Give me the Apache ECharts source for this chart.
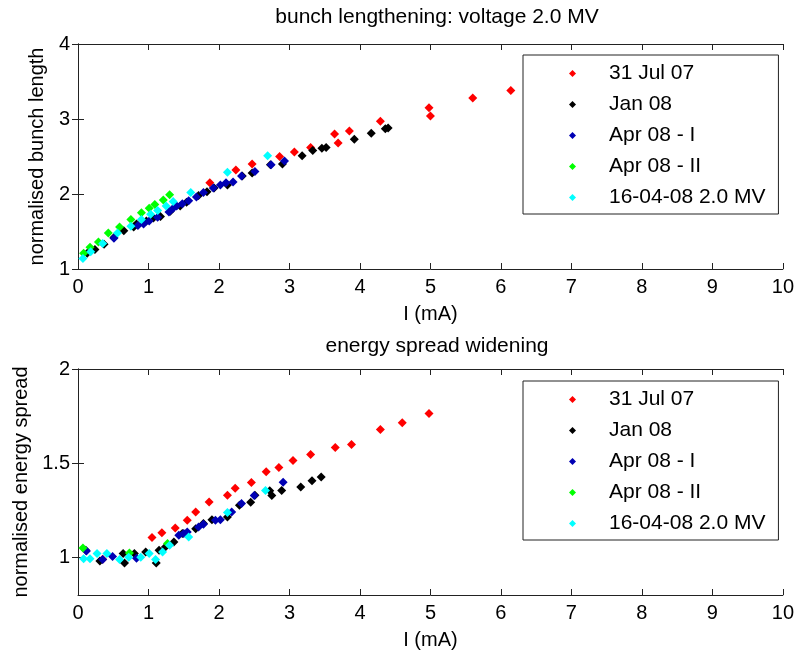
<!DOCTYPE html>
<html><head><meta charset="utf-8">
<script src="https://cdn.jsdelivr.net/npm/echarts@6/dist/echarts.min.js"></script>
<style>html,body{margin:0;padding:0;background:#fff}#c{width:797px;height:652px}</style>
</head><body><div id="c"></div>
<script>
const seriesNames = ['31 Jul 07', 'Jan 08', 'Apr 08 - I', 'Apr 08 - II', '16-04-08 2.0 MV'];
const seriesColors = ['#ff0000', '#000000', '#0000b4', '#00ff00', '#00ffff'];
const xTicks = [0,1,2,3,4,5,6,7,8,9,10];
const topYTicks = [1,2,3,4];
const botYTicks = [1,1.5,2];

// top: normalised bunch length
const bunchRed = [[1.87,2.15],[2.24,2.32],[2.47,2.40],[2.86,2.50],[3.07,2.56],[3.30,2.62],[3.64,2.80],[3.69,2.68],[3.85,2.84],[4.29,2.97],[4.98,3.15],[5.00,3.04],[5.60,3.28],[6.14,3.38]];
const bunchBlack = [[0.13,1.21],[0.24,1.26],[0.37,1.33],[0.51,1.42],[0.65,1.51],[0.79,1.56],[0.83,1.60],[0.97,1.64],[1.07,1.68],[1.17,1.70],[1.31,1.77],[1.45,1.84],[1.54,1.89],[1.71,1.98],[1.83,2.03],[1.93,2.08],[2.12,2.12],[2.33,2.24],[2.47,2.28],[2.73,2.39],[2.90,2.40],[3.18,2.51],[3.33,2.58],[3.46,2.61],[3.52,2.62],[3.92,2.73],[4.16,2.81],[4.36,2.87],[4.40,2.88]];
const bunchBlue = [[0.51,1.41],[0.85,1.58],[0.93,1.60],[1.01,1.64],[1.13,1.69],[1.29,1.76],[1.35,1.81],[1.40,1.84],[1.48,1.87],[1.57,1.91],[1.68,1.96],[1.78,2.02],[1.92,2.08],[2.02,2.12],[2.10,2.15],[2.20,2.16],[2.32,2.24],[2.51,2.30],[2.74,2.39],[2.93,2.44]];
const bunchGreen = [[0.08,1.21],[0.17,1.29],[0.29,1.36],[0.43,1.48],[0.59,1.56],[0.75,1.66],[0.90,1.75],[1.01,1.81],[1.09,1.86],[1.21,1.92],[1.30,1.99]];
const bunchCyan = [[0.07,1.14],[0.18,1.23],[0.35,1.34],[0.56,1.48],[0.75,1.57],[0.90,1.66],[1.03,1.73],[1.13,1.78],[1.25,1.84],[1.35,1.90],[1.60,2.02],[2.12,2.29],[2.69,2.51]];

// bottom: normalised energy spread
const spreadRed = [[0.35,0.99],[1.05,1.105],[1.19,1.131],[1.38,1.156],[1.55,1.197],[1.67,1.241],[1.86,1.294],[2.12,1.33],[2.23,1.367],[2.46,1.397],[2.67,1.454],[2.85,1.477],[3.05,1.514],[3.30,1.546],[3.65,1.583],[3.88,1.599],[4.29,1.679],[4.60,1.714],[4.98,1.764]];
const spreadBlack = [[0.11,1.037],[0.31,0.98],[0.64,1.02],[0.66,0.97],[0.80,1.02],[0.96,1.028],[1.11,0.97],[1.15,1.037],[1.24,1.055],[1.36,1.081],[1.48,1.126],[1.67,1.152],[1.78,1.179],[1.90,1.20],[2.12,1.214],[2.29,1.277],[2.45,1.293],[2.51,1.33],[2.72,1.353],[2.75,1.328],[2.89,1.355],[3.16,1.374],[3.32,1.406],[3.45,1.427]];
const spreadBlue = [[0.12,1.033],[0.35,0.988],[0.49,1.005],[0.83,0.995],[1.43,1.117],[1.50,1.126],[1.55,1.135],[1.71,1.161],[1.78,1.176],[1.95,1.197],[2.02,1.20],[2.18,1.241],[2.32,1.286],[2.50,1.328],[2.91,1.399]];
const spreadGreen = [[0.07,1.05],[0.73,1.023],[1.27,1.073]];
const spreadCyan = [[0.08,0.993],[0.17,0.993],[0.27,1.02],[0.41,1.02],[0.59,0.988],[0.72,1.0],[0.89,1.0],[1.01,1.02],[1.10,0.988],[1.20,1.028],[1.30,1.064],[1.57,1.108],[2.12,1.238],[2.66,1.355]];

const topData = [bunchRed, bunchBlack, bunchBlue, bunchGreen, bunchCyan];
const botData = [spreadRed, spreadBlack, spreadBlue, spreadGreen, spreadCyan];

const FONT = "'Liberation Sans', Arial, sans-serif";
const FS = 20;
const FS_BIG = 21;
const axisColor = '#222';

function xAxes(gridIndex) {
  const base = {
    type: 'value', gridIndex: gridIndex, min: 0, max: 10, interval: 1,
    axisLine: { lineStyle: { color: axisColor, width: 1 } },
    axisTick: { inside: true, length: 6, lineStyle: { color: axisColor } },
    splitLine: { show: false }
  };
  return [
    Object.assign({}, base, {
      position: 'bottom', name: 'I (mA)', nameLocation: 'middle', nameGap: 35,
      nameTextStyle: { fontFamily: FONT, fontSize: FS, color: '#000' },
      axisLabel: { fontFamily: FONT, fontSize: FS, color: '#000', margin: 8,
        customValues: xTicks }
    }),
    Object.assign({}, base, { position: 'top', axisLabel: { show: false } })
  ];
}
function yAxes(gridIndex, min, max, ticks, name, gap) {
  const base = {
    type: 'value', gridIndex: gridIndex, min: min, max: max,
    axisLine: { lineStyle: { color: axisColor, width: 1 } },
    axisTick: { inside: true, length: 6, lineStyle: { color: axisColor }, customValues: ticks },
    splitLine: { show: false }
  };
  return [
    Object.assign({}, base, {
      position: 'left', name: name, nameLocation: 'middle', nameGap: gap,
      nameTextStyle: { fontFamily: FONT, fontSize: FS, color: '#000' },
      axisLabel: { fontFamily: FONT, fontSize: FS, color: '#000', margin: 8, customValues: ticks }
    }),
    Object.assign({}, base, { position: 'right', axisLabel: { show: false } })
  ];
}

const series = [];
seriesNames.forEach((n, i) => {
  series.push({ name: n, type: 'scatter', xAxisIndex: 0, yAxisIndex: 0, data: topData[i],
    symbol: 'diamond', symbolSize: 9, itemStyle: { color: seriesColors[i], opacity: 1 } });
});
seriesNames.forEach((n, i) => {
  series.push({ name: n, type: 'scatter', xAxisIndex: 2, yAxisIndex: 2, data: botData[i],
    symbol: 'diamond', symbolSize: 9, itemStyle: { color: seriesColors[i], opacity: 1 } });
});

function legend(top) {
  return {
    data: seriesNames, left: 523, top: top, orient: 'vertical',
    icon: 'diamond', itemWidth: 7, itemHeight: 7, itemGap: 10,
    padding: [8, 13, 6, 46],
    borderColor: axisColor, borderWidth: 1, backgroundColor: '#fff',
    textStyle: { fontFamily: FONT, fontSize: FS_BIG, color: '#000', lineHeight: 20, padding: [0, 0, 0, 28] },
    selectedMode: false
  };
}

const chart = echarts.init(document.getElementById('c'), null, { renderer: 'canvas' });
chart.setOption({
  animation: false,
  backgroundColor: '#fff',
  title: [
    { text: 'bunch lengthening: voltage 2.0 MV', left: 432, top: 2, textAlign: 'center',
      textStyle: { fontFamily: FONT, fontSize: FS_BIG, fontWeight: 'normal', color: '#000' } },
    { text: 'energy spread widening', left: 432, top: 331, textAlign: 'center',
      textStyle: { fontFamily: FONT, fontSize: FS_BIG, fontWeight: 'normal', color: '#000' } }
  ],
  grid: [
    { left: 78, top: 44, width: 712, height: 225 },
    { left: 78, top: 369, width: 712, height: 226 }
  ],
  xAxis: xAxes(0).concat(xAxes(1)),
  yAxis: yAxes(0, 1, 4, topYTicks, 'normalised bunch length', 30)
    .concat(yAxes(1, 0.8, 2, botYTicks, 'normalised energy spread', 46)),
  legend: [legend(55), legend(381)],
  series: series
});
</script></body></html>
